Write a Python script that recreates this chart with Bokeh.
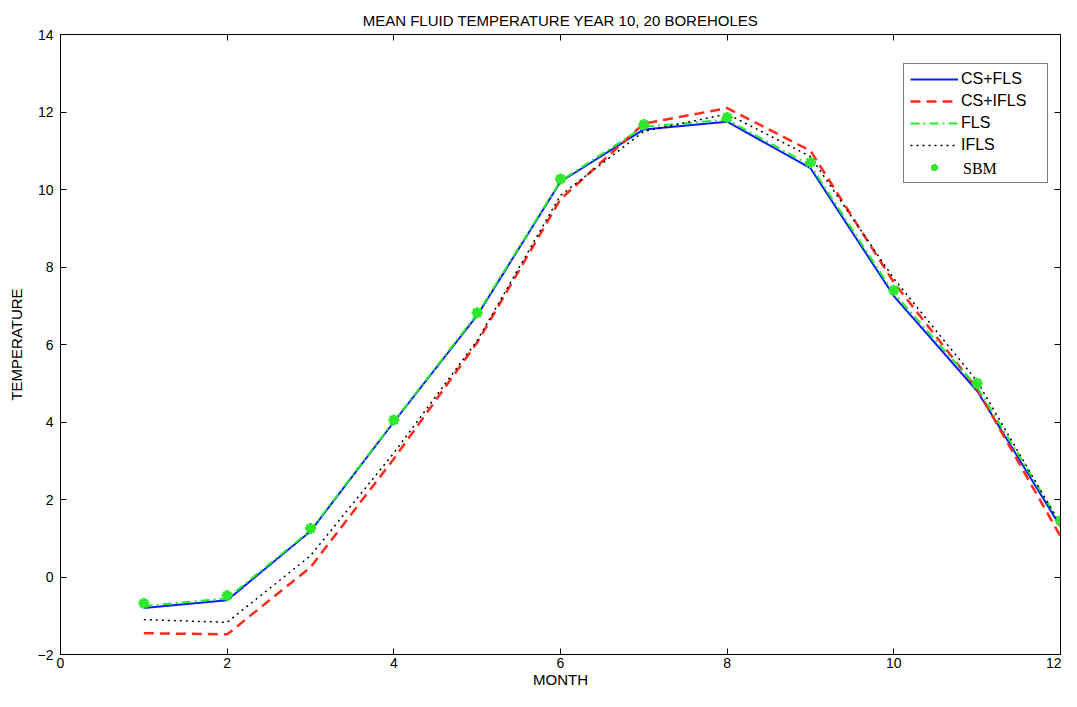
from bokeh.plotting import figure
from bokeh.models import LinearAxis, Legend, LegendItem, Range1d, FixedTicker, Label
from bokeh.embed import file_html
from bokeh.resources import INLINE

months = [1, 2, 3, 4, 5, 6, 7, 8, 9, 10, 11, 12]
cs_fls = [-0.80, -0.60, 1.18, 4.00, 6.75, 10.20, 11.55, 11.75, 10.55, 7.25, 4.80, 1.30]
cs_ifls = [-1.45, -1.48, 0.25, 3.05, 6.05, 9.75, 11.70, 12.10, 11.00, 7.60, 4.85, 1.05]
fls = [-0.75, -0.55, 1.20, 4.02, 6.78, 10.22, 11.62, 11.80, 10.62, 7.32, 4.90, 1.38]
ifls = [-1.10, -1.17, 0.55, 3.20, 6.10, 9.85, 11.50, 11.95, 10.85, 7.70, 5.05, 1.35]
sbm = [-0.68, -0.48, 1.25, 4.05, 6.82, 10.27, 11.68, 11.86, 10.70, 7.40, 5.00, 1.45]
x_ticks = [0, 2, 4, 6, 8, 10, 12]
y_ticks = [-2, 0, 2, 4, 6, 8, 10, 12, 14]

p = figure(width=1061, height=691, output_backend="svg", toolbar_location=None,
           x_range=Range1d(0, 12), y_range=Range1d(-2, 14),
           min_border_left=60, min_border_right=1, min_border_top=34, min_border_bottom=37)
p.title.text = "MEAN FLUID TEMPERATURE YEAR 10, 20 BOREHOLES"
p.title.align = "center"
p.title.text_font = "Liberation Sans"
p.title.text_font_size = "15px"
p.title.text_font_style = "normal"
p.title.text_color = "black"
p.title.standoff = 12

p.xgrid.visible = False
p.ygrid.visible = False
p.outline_line_color = "black"
p.outline_line_width = 1

def style(ax, labels=True):
    ax.major_tick_in = 6
    ax.major_tick_out = 0
    ax.minor_tick_in = 0
    ax.minor_tick_out = 0
    ax.axis_line_color = "black"
    ax.major_tick_line_color = "black"
    ax.major_label_text_font = "Liberation Sans"
    ax.major_label_text_font_size = "14px"
    ax.major_label_text_color = "black"
    ax.axis_label_text_font = "Liberation Sans"
    ax.axis_label_text_font_size = "15px"
    ax.axis_label_text_font_style = "normal"
    ax.axis_label_text_color = "black"

p.xaxis.ticker = FixedTicker(ticks=x_ticks)
p.yaxis.ticker = FixedTicker(ticks=y_ticks)
p.xaxis.axis_label = "MONTH"
p.yaxis.axis_label = "TEMPERATURE"
p.xaxis.axis_label_standoff = 0
p.yaxis.axis_label_standoff = 10
p.xaxis.major_label_standoff = 3
p.yaxis.major_label_standoff = 7
style(p.xaxis[0])
style(p.yaxis[0])

rax = LinearAxis(ticker=FixedTicker(ticks=y_ticks),
                 major_label_overrides={t: "" for t in y_ticks})
tax = LinearAxis(ticker=FixedTicker(ticks=x_ticks),
                 major_label_overrides={t: "" for t in x_ticks})
style(rax)
style(tax)
rax.major_label_standoff = 0
tax.major_label_standoff = 0
p.add_layout(rax, "right")
p.add_layout(tax, "above")

r1 = p.line(months, cs_fls, line_color="#0a1eff", line_width=2)
r2 = p.line(months, cs_ifls, line_color="#ff2a1a", line_width=2.5, line_dash="10 6")
r3 = p.line(months, fls, line_color="#22ee22", line_width=2, line_dash="9 4 2 4")
r4 = p.line(months, ifls, line_color="black", line_width=1.5, line_dash="2 4")
r5 = p.scatter(months, sbm, marker="asterisk", size=11, line_color="#2ee82e", line_width=3)

legend = Legend(items=[
    LegendItem(label="CS+FLS", renderers=[r1]),
    LegendItem(label="CS+IFLS", renderers=[r2]),
    LegendItem(label="FLS", renderers=[r3]),
    LegendItem(label="IFLS", renderers=[r4]),
    LegendItem(label=" ", renderers=[r5]),
], location=(843, 471))
legend.border_line_color = "black"
legend.border_line_width = 1
legend.label_text_font = "Liberation Sans"
legend.label_text_font_size = "16px"
legend.label_text_color = "black"
legend.glyph_width = 48
legend.glyph_height = 18
legend.label_height = 18
legend.label_width = 80
legend.spacing = 4
legend.padding = 6
legend.margin = 0
legend.label_standoff = 3
legend.background_fill_alpha = 0
legend.level = "annotation"
p.add_layout(legend, "center")

sbm_label = Label(x=10.83, y=10.55, text="SBM", text_font="Liberation Serif",
                  text_font_size="16px", text_color="black", text_baseline="middle",
                  level="overlay")
p.add_layout(sbm_label)

open("out.html", "w").write(file_html(p, INLINE))
